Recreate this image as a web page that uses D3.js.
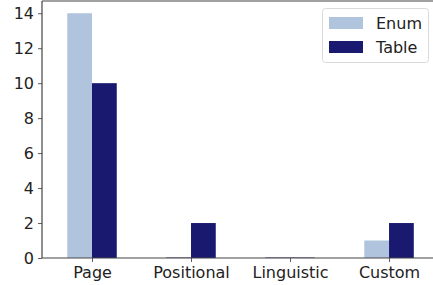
<!DOCTYPE html>
<html><head><meta charset="utf-8">
<script src="https://cdn.jsdelivr.net/npm/d3@7"></script>
<style>body{margin:0;background:#fff}svg{display:block;font-family:"DejaVu Sans",sans-serif}</style>
</head><body><svg id="c" width="433" height="285"></svg>
<script>
const categories = ["Page", "Positional", "Linguistic", "Custom"];
const seriesNames = ["Enum", "Table"];
const enumValues = [14, 0, 0, 1];
const tableValues = [10, 2, 0, 2];
const yTicks = [0, 2, 4, 6, 8, 10, 12, 14];
const colors = ["#b0c4de", "#191970"];

(function () {
const svg = d3.select("#c");
const mL = 42, mT = 1, mB = 258, mR = 433;
const x = d3.scaleLinear().domain([-0.505, 3.444]).range([mL, mR]);
const y = d3.scaleLinear().domain([0, 14.7]).range([mB, mT]);
const bw = 0.25;
const series = [enumValues, tableValues];

series.forEach((vals, si) => {
  svg.append("g").selectAll("rect").data(vals).join("rect")
    .attr("x", (d, i) => x(i - bw + si * bw))
    .attr("width", x(bw) - x(0))
    .attr("y", d => y(d))
    .attr("height", d => y(0) - y(d))
    .attr("fill", colors[si]);
  // zero-height bars leave a faint edge line in the reference
  svg.append("g").selectAll("line").data(vals.map((v, i) => [v, i]).filter(p => p[0] === 0)).join("line")
    .attr("x1", p => x(p[1] - bw + si * bw)).attr("x2", p => x(p[1] + si * bw))
    .attr("y1", y(0) - 0.5).attr("y2", y(0) - 0.5)
    .attr("stroke", "#191970").attr("stroke-opacity", 0.45).attr("stroke-width", 1);
});

const yAxis = d3.axisLeft(y).tickValues(yTicks).tickSize(4).tickPadding(4);
const gy = svg.append("g").attr("transform", `translate(${mL},0)`).call(yAxis);
const xAxis = d3.axisBottom(x).tickValues(categories.map((c, i) => i)).tickFormat(i => categories[i]).tickSize(4).tickPadding(5);
const gx = svg.append("g").attr("transform", `translate(0,${mB})`).call(xAxis);
[gx, gy].forEach(g => {
  g.attr("font-family", "DejaVu Sans").attr("font-size", 16);
  g.select(".domain").remove();
  g.selectAll("line").attr("stroke", "#333").attr("stroke-width", 0.8);
  g.selectAll("text").attr("fill", "#222");
});
// spines
svg.append("line").attr("x1", mL).attr("x2", mL).attr("y1", mT).attr("y2", mB).attr("stroke", "#444").attr("stroke-width", 1.2);
svg.append("line").attr("x1", mL).attr("x2", mR).attr("y1", mB).attr("y2", mB).attr("stroke", "#444").attr("stroke-width", 1.2);
svg.append("line").attr("x1", mL).attr("x2", mR).attr("y1", mT).attr("y2", mT).attr("stroke", "#444").attr("stroke-width", 1.2);

// legend
const lg = svg.append("g");
lg.append("rect").attr("x", 322.5).attr("y", 8.5).attr("width", 106).attr("height", 54).attr("rx", 3)
  .attr("fill", "#fff").attr("fill-opacity", 0.8).attr("stroke", "#d9d9d9").attr("stroke-width", 1);
seriesNames.forEach((n, i) => {
  lg.append("rect").attr("x", 329).attr("y", 17 + i * 24).attr("width", 34).attr("height", 12).attr("fill", colors[i]);
  lg.append("text").attr("x", 376).attr("y", 29 + i * 24).attr("font-size", 16).attr("font-family", "DejaVu Sans").attr("fill", "#222").text(n);
});
})();
</script></body></html>
